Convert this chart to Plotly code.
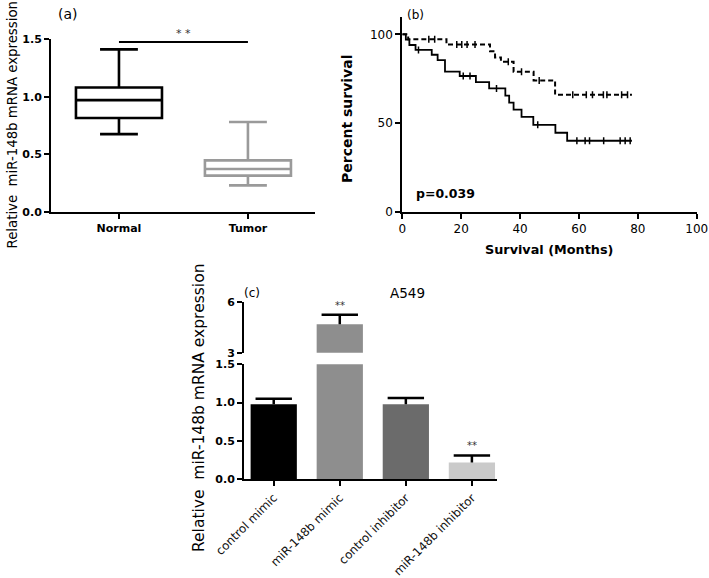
import plotly.graph_objects as go

W, H = 709, 578
FONT = "DejaVu Sans, Liberation Sans, Arial, sans-serif"

# ---------- data ----------
# panel (a) box statistics
box_groups = ["Normal", "Tumor"]
box_q1 = [0.815, 0.315]
box_median = [0.97, 0.373]
box_q3 = [1.08, 0.448]
box_low = [0.675, 0.231]
box_high = [1.41, 0.78]
box_colors = ["#000000", "#9a9a9a"]

# panel (b) survival curves (Kaplan-Meier steps)
low_x = [0, 1.2, 2.4, 4.5, 10, 12, 14.5, 19.5, 25, 29.5, 35, 36.3, 37.8, 40.5, 44.5, 52, 56, 78]
low_y = [100, 97, 94, 91.2, 88.5, 85.5, 79, 76.5, 73, 69.5, 65.5, 61.5, 57.5, 53.5, 49, 44.5, 40, 40]
low_cens_x = [5.5, 20.7, 23, 32, 46, 59.3, 62.1, 63.6, 68.4, 74, 75.7, 77.4]
low_cens_y = [91.2, 76.5, 76.5, 69.5, 49, 40, 40, 40, 40, 40, 40, 40]

high_x = [0, 2, 15, 29.8, 31.5, 33.5, 37.8, 44.6, 51.9, 78]
high_y = [100, 97.2, 94.2, 90.5, 87, 84.6, 78.9, 74, 66, 66]
high_cens_x = [9, 11, 18.5, 20.2, 22, 24.7, 36, 40.5, 46.5, 57.9, 62.5, 64.6, 68.3, 69.5, 74.5, 76.5]
high_cens_y = [97.2, 97.2, 94.2, 94.2, 94.2, 94.2, 84.6, 78.9, 74, 66, 66, 66, 66, 66, 66, 66]

# panel (c) bars
bar_groups = ["control mimic", "miR-148b mimic", "control inhibitor", "miR-148b inhibitor"]
bar_values = [0.98, 4.7, 0.98, 0.22]
bar_errors = [0.07, 0.56, 0.08, 0.09]
bar_colors = ["#000000", "#8e8e8e", "#6b6b6b", "#cacaca"]


def px(x):
    return x / W


def py(y):
    return 1 - y / H


fig = go.Figure()

# ---------- panel (a) ----------
for i, g in enumerate(box_groups):
    fig.add_trace(go.Box(
        x=[g], q1=[box_q1[i]], median=[box_median[i]], q3=[box_q3[i]],
        lowerfence=[box_low[i]], upperfence=[box_high[i]],
        width=0.667, whiskerwidth=0.44,
        fillcolor="white", line=dict(color=box_colors[i], width=2.6),
        boxpoints=False, showlegend=False, hoverinfo="skip",
        xaxis="x", yaxis="y"))

# ---------- panel (b) ----------
cens_marker = dict(symbol="line-ns", size=5, line=dict(color="black", width=1.5))
fig.add_trace(go.Scatter(x=low_x, y=low_y, mode="lines", line_shape="hv",
                         line=dict(color="black", width=1.8),
                         showlegend=False, xaxis="x2", yaxis="y2"))
fig.add_trace(go.Scatter(x=low_cens_x, y=low_cens_y, mode="markers", marker=cens_marker,
                         showlegend=False, xaxis="x2", yaxis="y2"))
fig.add_trace(go.Scatter(x=high_x, y=high_y, mode="lines", line_shape="hv",
                         line=dict(color="black", width=2, dash="5px,3px"),
                         showlegend=False, xaxis="x2", yaxis="y2"))
fig.add_trace(go.Scatter(x=high_cens_x, y=high_cens_y, mode="markers", marker=cens_marker,
                         showlegend=False, xaxis="x2", yaxis="y2"))

# ---------- panel (c) ----------
bar_tops = [v + e for v, e in zip(bar_values, bar_errors)]
for xa, ya in (("x3", "y3"), ("x4", "y4")):
    fig.add_trace(go.Bar(
        x=bar_groups, y=bar_values, width=0.7,
        marker=dict(color=bar_colors, line=dict(width=0)),
        error_y=dict(type="data", symmetric=False, array=bar_errors,
                     arrayminus=[0] * len(bar_errors),
                     color="black", thickness=2.5, width=0),
        showlegend=False, hoverinfo="skip", xaxis=xa, yaxis=ya))
    fig.add_trace(go.Scatter(
        x=bar_groups, y=bar_tops, mode="markers",
        marker=dict(symbol="line-ew", size=26, line=dict(color="black", width=2.5)),
        showlegend=False, hoverinfo="skip", xaxis=xa, yaxis=ya))

axis_common = dict(showline=True, linecolor="black", linewidth=2,
                   ticks="outside", ticklen=5, tickwidth=2, tickcolor="black",
                   showgrid=False, zeroline=False, automargin=False,
                   ticklabeloverflow="allow")

bold11 = dict(family=FONT, size=11, color="black", weight="bold")
reg12 = dict(family=FONT, size=12, color="black")

fig.update_layout(
    template="none",
    width=W, height=H, margin=dict(l=0, r=0, t=0, b=0, pad=0),
    paper_bgcolor="white", plot_bgcolor="white",
    font=dict(family=FONT, color="black"),
    showlegend=False,
    xaxis=dict(domain=[px(51), px(315)], anchor="y", type="category",
               range=[-0.527, 1.52], tickfont=bold11, **axis_common),
    yaxis=dict(domain=[py(212), py(39)], anchor="x", range=[0, 1.5],
               tickvals=[0, 0.5, 1.0, 1.5], ticktext=["0.0", "0.5", "1.0", "1.5"],
               tickfont=bold11, **axis_common),
    xaxis2=dict(domain=[px(402.3), px(696.7)], anchor="y2", range=[0, 100],
                tickvals=[0, 20, 40, 60, 80, 100], tickfont=reg12, **axis_common),
    yaxis2=dict(domain=[py(211.7), py(16.6)], anchor="x2", range=[0, 110],
                tickvals=[0, 50, 100], tickfont=reg12, **axis_common),
    xaxis3=dict(domain=[px(244), px(497)], anchor="y3", type="category",
                range=[-0.45, 3.38], tickangle=-45,
                tickfont=dict(family=FONT, size=11.8, color="#111"), **axis_common),
    yaxis3=dict(domain=[py(479.3), py(364.3)], anchor="x3", range=[0, 1.5],
                tickvals=[0, 0.5, 1.0, 1.5], ticktext=["0.0", "0.5", "1.0", "1.5"],
                tickfont=bold11, **axis_common),
    xaxis4=dict(domain=[px(244), px(497)], anchor="y4", type="category",
                range=[-0.45, 3.38], visible=False, automargin=False),
    yaxis4=dict(domain=[py(352.7), py(302.3)], anchor="x4", range=[3, 6],
                tickvals=[3, 6], tickfont=bold11, **axis_common),
)

# significance line panel (a)
fig.add_shape(type="line", xref="x", yref="y", x0=0, x1=1, y0=1.475, y1=1.475,
              line=dict(color="black", width=2))


def note(x, y, text, size=13, weight="normal", angle=0, xanchor="center", color="black"):
    return dict(x=px(x), y=py(y), xref="paper", yref="paper", text=text,
                textangle=angle, showarrow=False, xanchor=xanchor, yanchor="middle",
                font=dict(family=FONT, size=size, color=color, weight=weight))


ann = [
    dict(x=0.5, y=1.475, xref="x", yref="y", text="* *", showarrow=False,
         xanchor="center", yanchor="bottom",
         font=dict(family=FONT, size=11, color="#333")),
    note(68, 14, "(a)", size=14),
    note(12, 125.5, "Relative  miR-148b mRNA expression", size=13.3, angle=-90),
    note(415, 15, "(b)", size=12),
    note(347, 119, "Percent survival", size=14, weight="bold", angle=-90),
    note(549, 250, "Survival (Months)", size=12.8, weight="bold"),
    note(414, 193, "p=0.039", size=12.5, weight="bold", xanchor="left"),
    note(252, 293, "(c)", size=12),
    note(407, 293, "A549", size=13.5),
    note(199, 408, "Relative  miR-148b mRNA expression", size=15.5, angle=-90),
    dict(x=bar_groups[1], y=bar_tops[1], xref="x4", yref="y4",
         text="**", showarrow=False, xanchor="center", yanchor="bottom", yshift=2,
         font=dict(family=FONT, size=10, color="#333")),
    dict(x=bar_groups[3], y=bar_tops[3], xref="x3", yref="y3",
         text="**", showarrow=False, xanchor="center", yanchor="bottom", yshift=3,
         font=dict(family=FONT, size=10, color="#333")),
]
fig.update_layout(annotations=ann)

# remove the browser's default 8px page margin so the figure fills the window
fig.write_html("out.html",
               config={"displayModeBar": False, "staticPlot": True},
               post_script="document.body.style.margin='0';"
                           "document.body.style.overflow='hidden';")
